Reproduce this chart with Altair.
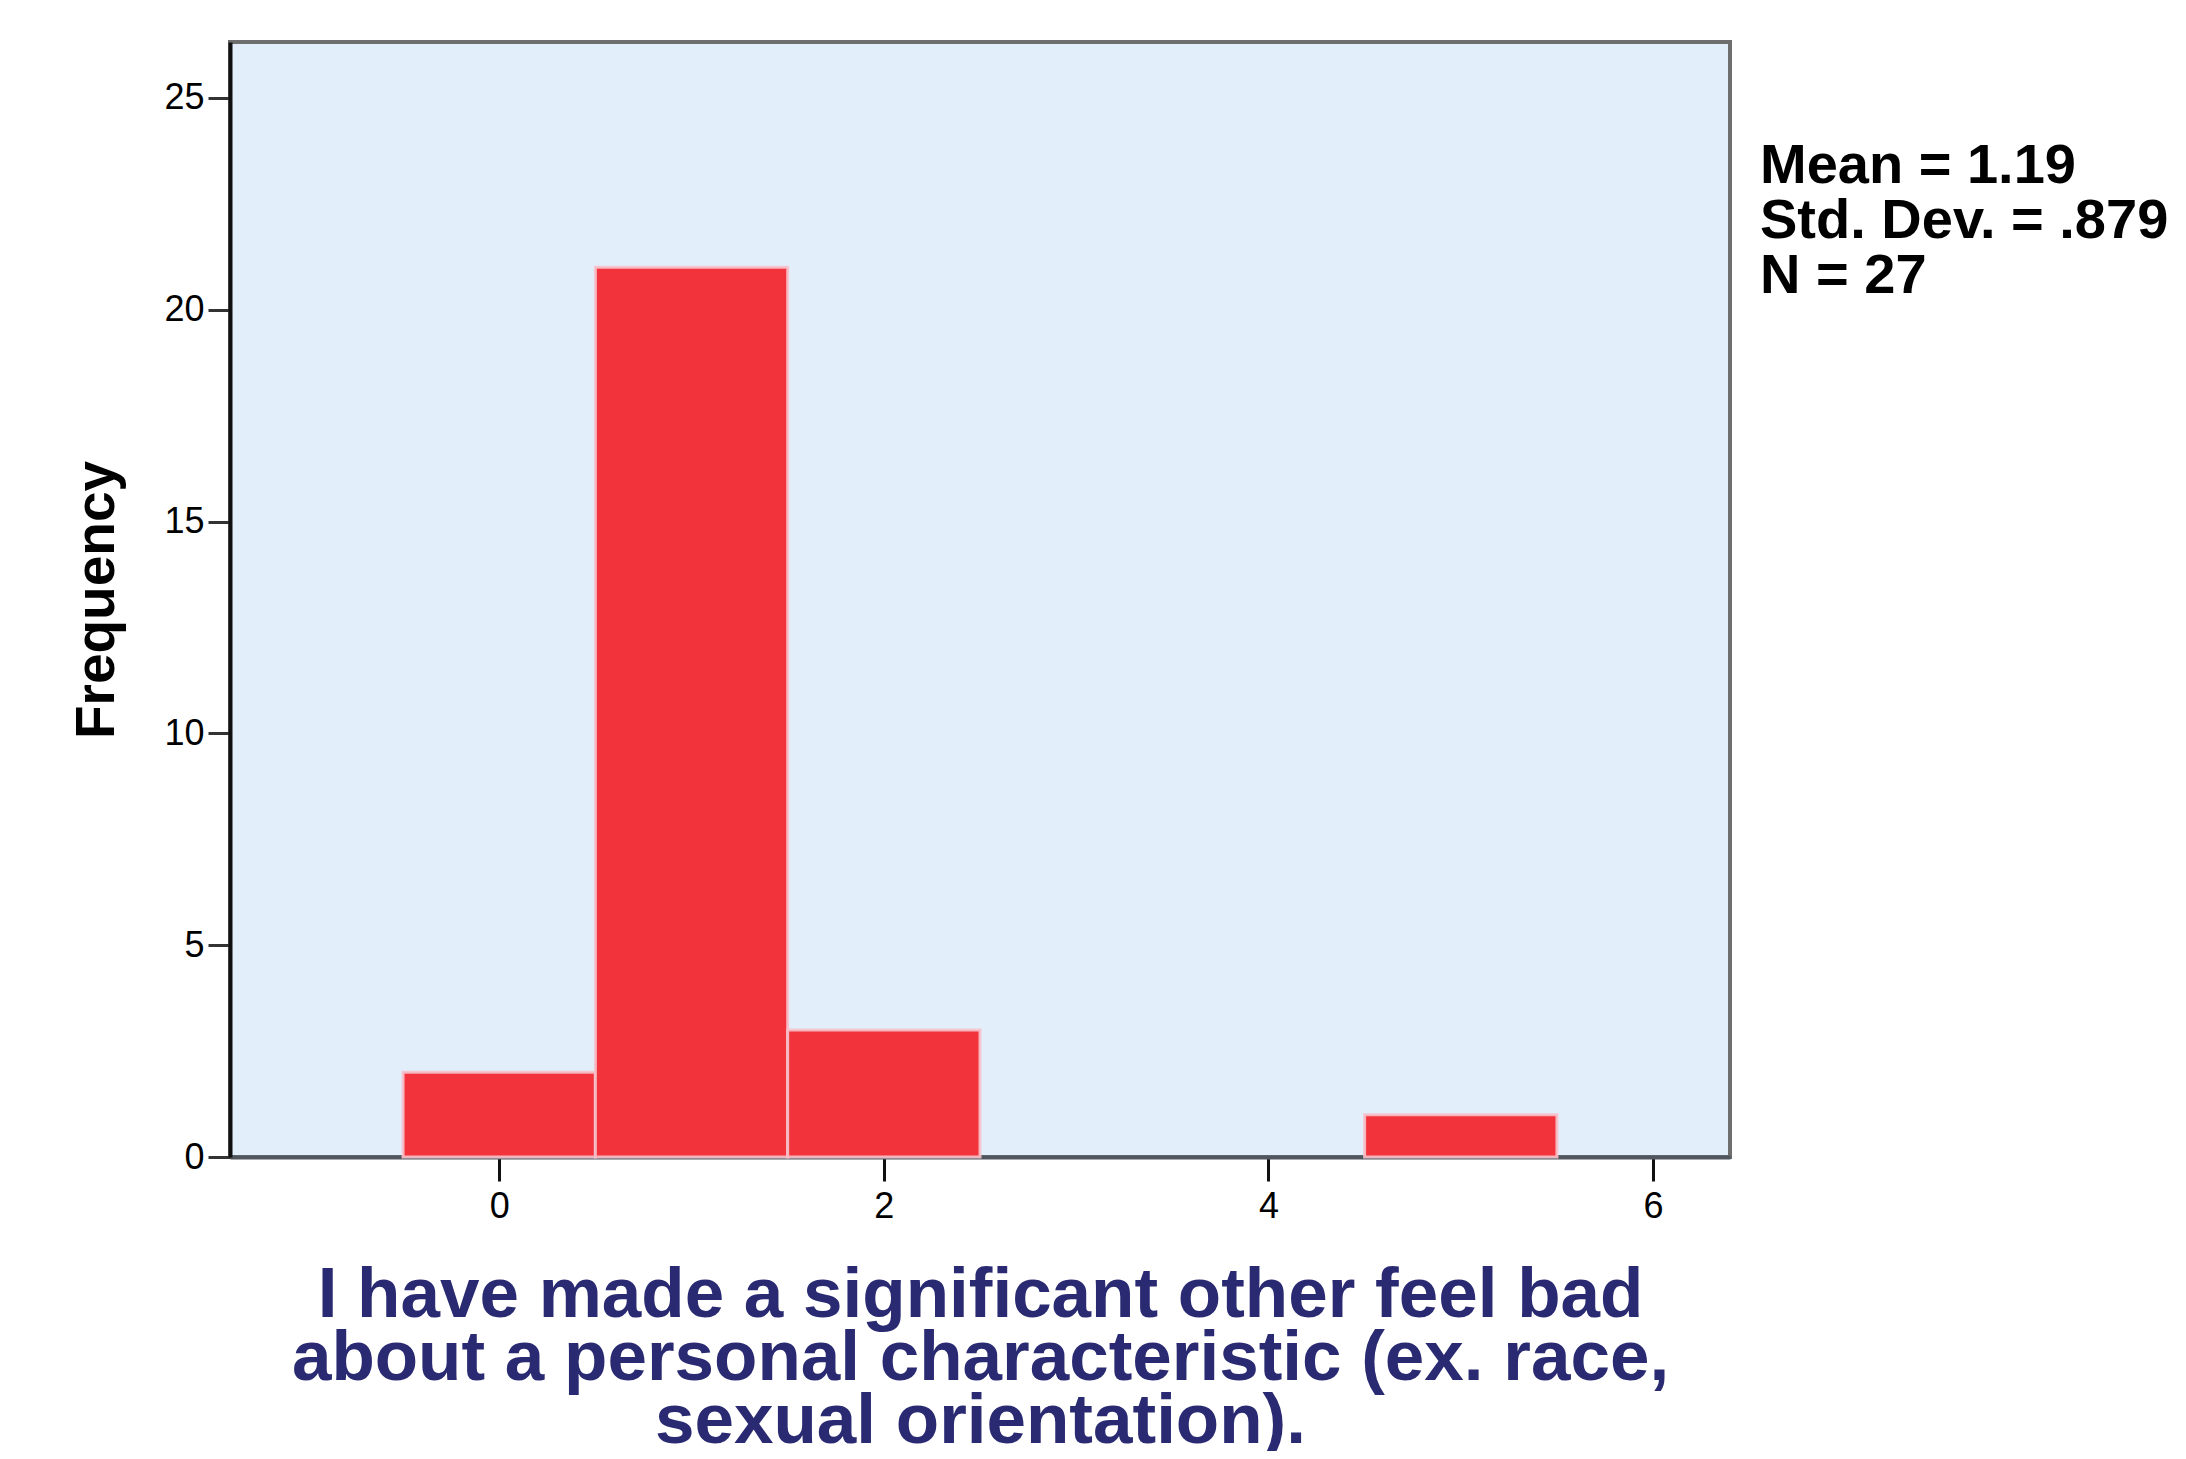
import altair as alt
import pandas as pd

# Histogram data
centers = [0, 1, 2, 5]
counts = [2, 21, 3, 1]
x_ticks = [0, 2, 4, 6]
y_ticks = [0, 5, 10, 15, 20, 25]
stats_lines = ["Mean = 1.19", "Std. Dev. = .879", "N = 27"]
x_title = ["I have made a significant other feel bad",
           "about a personal characteristic (ex. race,",
           "sexual orientation)."]
y_title = "Frequency"

df = pd.DataFrame({"center": centers, "count": counts})

W, H = 1500, 1115
FONT = "Liberation Sans"

x_scale = alt.Scale(domain=[-1.4, 6.4], nice=False, zero=False)
y_scale = alt.Scale(domain=[0, 26.32], nice=False)

bars = alt.Chart(df).transform_calculate(
    x0="datum.center - 0.5", x1="datum.center + 0.5"
).mark_rect(
    color="#F2333B", stroke="#F6C2CC", strokeOpacity=0.9, strokeWidth=3
).encode(
    x=alt.X("x0:Q", scale=x_scale,
            axis=alt.Axis(values=x_ticks, title=x_title, grid=False,
                          domainColor="#50565E", domainWidth=4,
                          tickColor="#111111", tickWidth=3, tickSize=24,
                          labelFont=FONT, labelFontSize=36, labelColor="#000000",
                          labelPadding=8,
                          titleFont=FONT, titleFontSize=71, titleFontWeight="bold",
                          titleColor="#2A2A72", titleLineHeight=63,
                          titlePadding=36)),
    x2="x1:Q",
    y=alt.Y("count:Q", scale=y_scale,
            axis=alt.Axis(values=y_ticks, title=y_title, grid=False,
                          domainColor="#111111", domainWidth=4,
                          tickColor="#333333", tickWidth=3, tickSize=22,
                          labelFont=FONT, labelFontSize=36, labelColor="#000000",
                          labelPadding=4,
                          titleFont=FONT, titleFontSize=55, titleFontWeight="bold",
                          titleColor="#000000", titlePadding=38)),
    y2=alt.datum(0),
)

stats_df = pd.DataFrame({"txt": ["\n".join(stats_lines)]})
stats = alt.Chart(stats_df).mark_text(
    align="left", baseline="alphabetic", font=FONT, fontSize=56,
    fontWeight="bold", color="#000000", lineBreak="\n", lineHeight=55
).encode(
    text="txt:N",
    x=alt.value(W + 30),
    y=alt.value(141),
)

chart = alt.layer(bars, stats).properties(
    width=W, height=H,
    background="#FFFFFF",
    autosize=alt.AutoSizeParams(type="none"),
    padding={"left": 222, "top": 34, "right": 448, "bottom": 294},
).configure_view(
    fill="#E3EEFB", stroke="#6E6E6E", strokeWidth=4
)

chart.save("out.html", embed_options={"renderer": "svg", "actions": False})
